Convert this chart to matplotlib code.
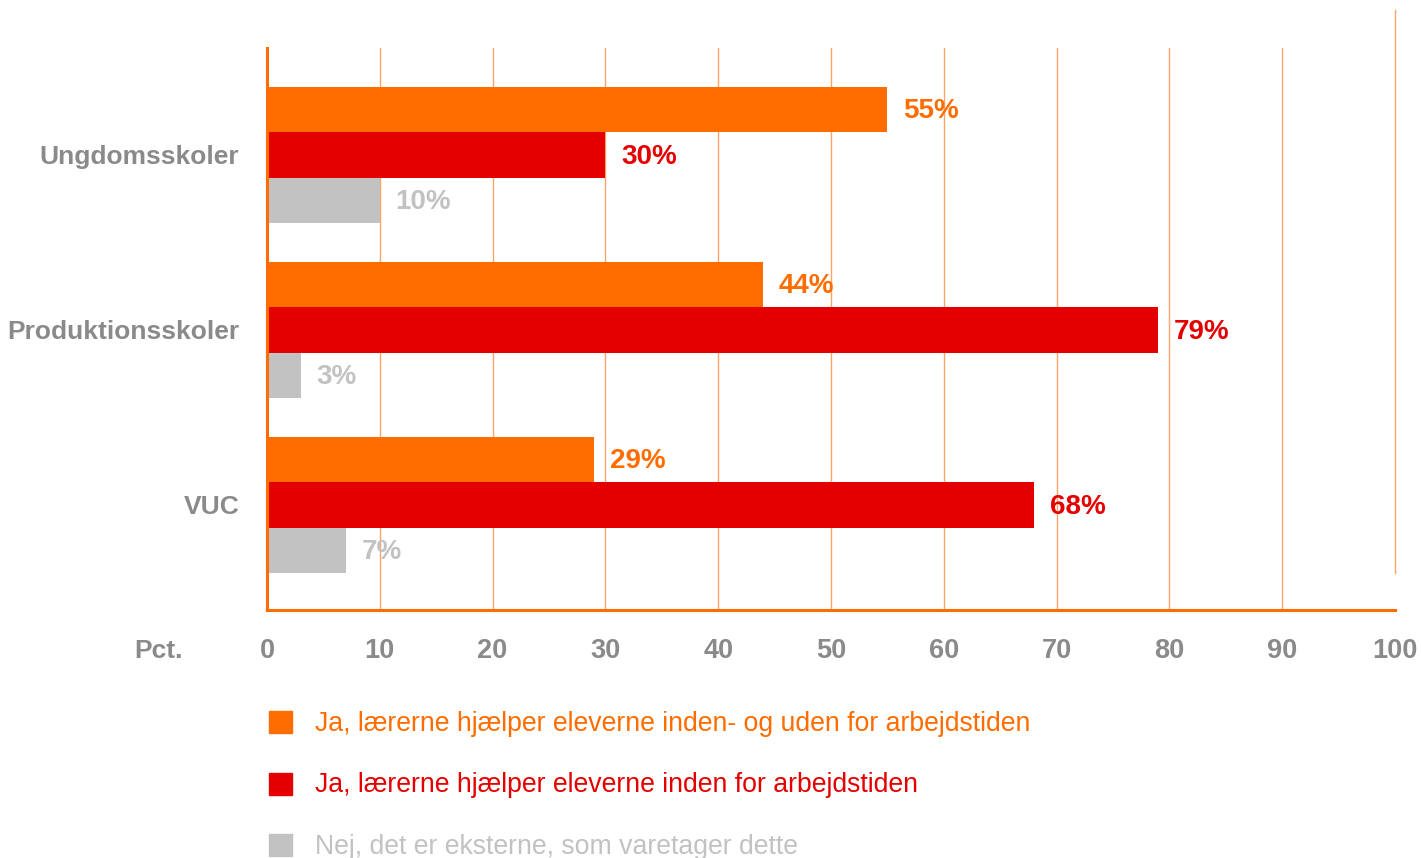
import numpy as np
import matplotlib
matplotlib.use("Agg")
import matplotlib.pyplot as plt
from matplotlib.patches import Rectangle

plt.rcParams['font.family'] = ['Liberation Sans', 'DejaVu Sans']

# Data
categories = ['Ungdomsskoler', 'Produktionsskoler', 'VUC']
series_labels = [
    'Ja, lærerne hjælper eleverne inden- og uden for arbejdstiden',
    'Ja, lærerne hjælper eleverne inden for arbejdstiden',
    'Nej, det er eksterne, som varetager dette',
]
inden_og_uden = [55, 44, 29]
inden = [30, 79, 68]
eksterne = [10, 3, 7]
xticks = list(range(0, 101, 10))

ORANGE = '#ff6d00'
RED = '#e50000'
GRAY = '#c2c2c2'
GRID = '#ffa466'
LABEL_GRAY = '#8a8a8a'

colors = [ORANGE, RED, GRAY]
label_colors = [ORANGE, RED, '#c2c2c2']
series = [inden_og_uden, inden, eksterne]

W, H = 1421, 858
fig = plt.figure(figsize=(W / 100, H / 100), dpi=100)
ax = fig.add_axes([267 / W, 1 - 610 / H, (1395 - 267) / W, (610 - 48) / H])

y = np.arange(len(categories))
bh = 0.26
offsets = [-bh, 0, bh]

for vals, col, lcol, off in zip(series, colors, label_colors, offsets):
    ax.barh(y + off, vals, height=bh, color=col, zorder=3)
    for yi, v in zip(y, vals):
        ax.text(v + 1.4, yi + off + 0.01, f'{v}%', color=lcol, fontsize=20,
                fontweight='bold', va='center', ha='left', zorder=4)

ax.set_xlim(0, 100)
ax.set_ylim(len(categories) - 1 + 0.6, -0.61)

# gridlines
for t in xticks[1:-1]:
    ax.axvline(t, color=GRID, lw=1.0, zorder=1)
ax.axvline(100, ymin=0.066, ymax=1.068, color=GRID, lw=1.0, zorder=1, clip_on=False)

for s in ['top', 'right']:
    ax.spines[s].set_visible(False)
for s in ['left', 'bottom']:
    ax.spines[s].set_color(ORANGE)
    ax.spines[s].set_linewidth(2.2)
    ax.spines[s].set_zorder(5)

ax.set_xticks(xticks)
ax.set_xticklabels([str(t) for t in xticks], fontsize=19.5, fontweight='bold',
                   color=LABEL_GRAY)
ax.tick_params(axis='x', length=0, pad=20)
ax.set_yticks(y)
ax.set_yticklabels(categories, fontsize=19, fontweight='bold', color=LABEL_GRAY)
ax.tick_params(axis='y', length=0, pad=20)

fig.text(158 / W, 1 - 651 / H, 'Pct.', fontsize=19, fontweight='bold',
         color=LABEL_GRAY, ha='center', va='center')

# legend
for i, (lab, col, lcol) in enumerate(zip(series_labels, colors, label_colors)):
    yc = 722 + i * 61.5
    fig.patches.append(Rectangle((269 / W, 1 - (yc + 11) / H), 23 / W, 22 / H,
                                 transform=fig.transFigure, color=col))
    fig.text(315 / W, 1 - (yc + 2) / H, lab, fontsize=19.2, color=lcol,
             ha='left', va='center')

fig.savefig('out.png', dpi=100)
